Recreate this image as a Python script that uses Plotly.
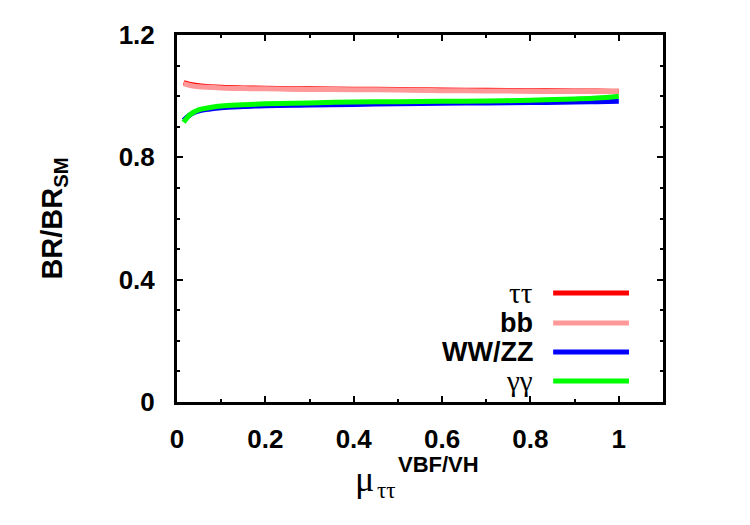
import plotly.graph_objects as go

# ---- data ----
mu = [0.015, 0.03, 0.05, 0.075, 0.1, 0.15, 0.2, 0.3, 0.4, 0.5, 0.6, 0.7, 0.8, 0.9, 0.95, 1.0]
br_tautau = [1.044, 1.038, 1.034, 1.031, 1.029, 1.027, 1.026, 1.024, 1.023, 1.022, 1.020, 1.019, 1.018, 1.017, 1.017, 1.016]
br_bb = [1.041, 1.035, 1.031, 1.029, 1.027, 1.025, 1.024, 1.022, 1.021, 1.020, 1.018, 1.017, 1.016, 1.015, 1.015, 1.015]
br_wwzz = [0.921, 0.940, 0.952, 0.958, 0.962, 0.966, 0.969, 0.971, 0.973, 0.975, 0.977, 0.978, 0.979, 0.981, 0.982, 0.983]
br_gamgam = [0.915, 0.940, 0.956, 0.963, 0.968, 0.972, 0.975, 0.978, 0.981, 0.982, 0.983, 0.984, 0.987, 0.991, 0.994, 1.000]

series_names = ["ττ", "bb", "WW/ZZ", "γγ"]
series_values = [br_tautau, br_bb, br_wwzz, br_gamgam]
series_colors = ["#ff0000", "#ff9999", "#0000ff", "#00ff00"]
series_serif = [True, False, False, True]

x_ticks = [0, 0.2, 0.4, 0.6, 0.8, 1]
x_tick_labels = ["0", "0.2", "0.4", "0.6", "0.8", "1"]
y_ticks = [0, 0.4, 0.8, 1.2]
y_tick_labels = ["0", "0.4", "0.8", "1.2"]

SANS = "Liberation Sans, Arial, sans-serif"
SERIF = "Liberation Serif, Times New Roman, serif"

fig = go.Figure()
for name, vals, col in zip(series_names, series_values, series_colors):
    fig.add_trace(go.Scatter(x=mu, y=vals, mode="lines", name=name,
                             line=dict(color=col, width=5, shape="spline"),
                             showlegend=False))

axis_common = dict(
    showline=True, linecolor="black", linewidth=3, mirror="allticks",
    ticks="inside", ticklen=6, tickwidth=2, tickcolor="black",
    showgrid=False, zeroline=False,
    tickfont=dict(family=SANS, size=26, color="black", weight="bold"),
)

fig.update_layout(
    width=750, height=525,
    margin=dict(l=177, r=87, t=35, b=123),
    plot_bgcolor="white", paper_bgcolor="white",
    xaxis=dict(range=[0, 1.1], tickvals=x_ticks, ticktext=x_tick_labels,
               minor=dict(dtick=0.1, ticks="inside", ticklen=3, tickwidth=2, tickcolor="black"),
               ticklabelstandoff=12, **axis_common),
    yaxis=dict(range=[0, 1.2], tickvals=y_ticks, ticktext=y_tick_labels,
               minor=dict(dtick=0.1, ticks="inside", ticklen=3, tickwidth=2, tickcolor="black"),
               ticklabelstandoff=14, **axis_common),
)

# legend drawn manually: text right-aligned, sample line to the right
leg_y = [0.297, 0.215, 0.136, 0.057]
for name, col, serif, yy in zip(series_names, series_colors, series_serif, leg_y):
    fig.add_annotation(xref="paper", yref="paper", x=0.737, y=yy, xanchor="right", yanchor="middle",
                       text=name if serif else "<b>" + name + "</b>", showarrow=False,
                       font=dict(family=SERIF if serif else SANS, size=29 if serif else 27, color="black"))
    fig.add_shape(type="line", xref="paper", yref="paper", x0=0.774, x1=0.930, y0=yy, y1=yy,
                  line=dict(color=col, width=5))

# y axis title
fig.add_annotation(xref="paper", yref="paper", x=-0.255, y=0.5, xanchor="center", yanchor="middle",
                   textangle=-90, showarrow=False,
                   text="<b>BR/BR<sub>SM</sub></b>",
                   font=dict(family=SANS, size=29, color="black"))

# x axis title: mu_tautau^{VBF/VH}
fig.add_annotation(xref="paper", yref="paper", x=(364 - 177) / 486, y=(402 - 479) / 367,
                   xanchor="center", yanchor="middle", showarrow=False,
                   text="μ", font=dict(family=SERIF, size=36, color="black"))
fig.add_annotation(xref="paper", yref="paper", x=(386 - 177) / 486, y=(402 - 490) / 367,
                   xanchor="center", yanchor="middle", showarrow=False,
                   text="ττ", font=dict(family=SERIF, size=23, color="black"))
fig.add_annotation(xref="paper", yref="paper", x=(438 - 177) / 486, y=(402 - 464) / 367,
                   xanchor="center", yanchor="middle", showarrow=False,
                   text="<b>VBF/VH</b>", font=dict(family=SANS, size=22, color="black"))

fig.write_html("out.html")
